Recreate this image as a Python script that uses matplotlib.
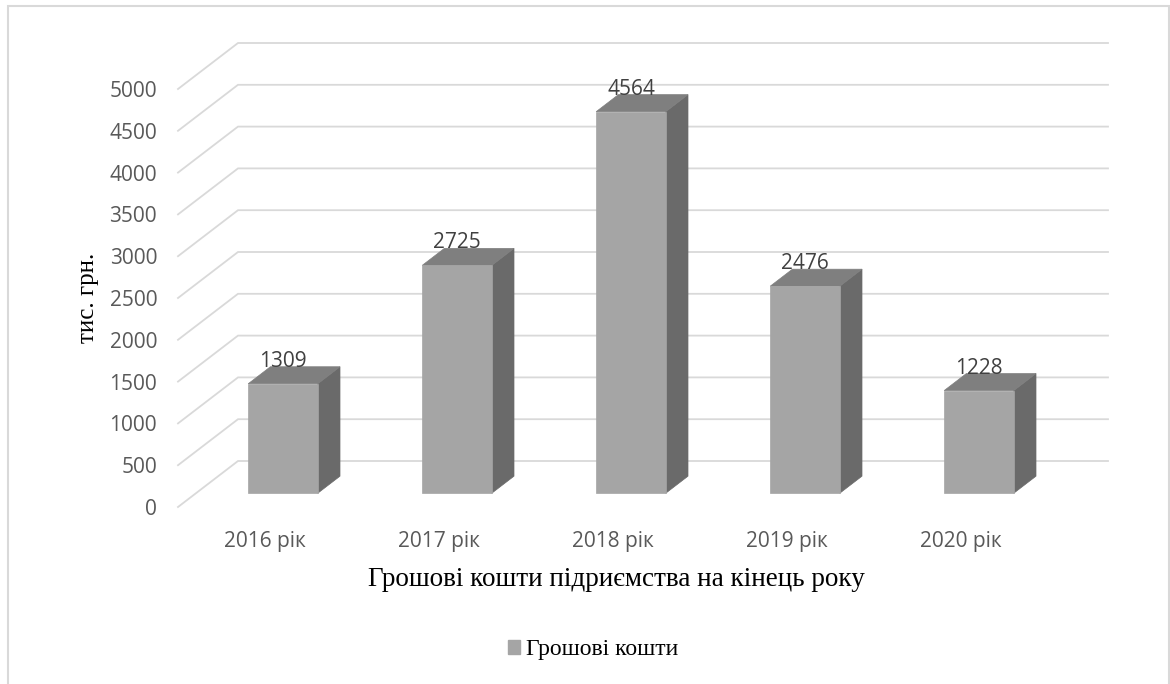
import matplotlib
matplotlib.use("Agg")
import matplotlib.pyplot as plt
from matplotlib.patches import Polygon, Rectangle, Patch
from matplotlib.transforms import IdentityTransform, offset_copy

years = ["2016 рік", "2017 рік", "2018 рік", "2019 рік", "2020 рік"]
cash = [1309, 2725, 4564, 2476, 1228]
y_ticks = [0, 500, 1000, 1500, 2000, 2500, 3000, 3500, 4000, 4500, 5000]

# pseudo-3D geometry: pixel shift of the back wall, bar depth span, bar width
DEPTH = (60, 46)
BAR_FRONT, BAR_BACK = 0.30, 0.67
BAR_WIDTH = 0.40

FRONT = "#A5A5A5"
TOP = "#7F7F7F"
SIDE = "#6A6A6A"
GRID = "#D9D9D9"
TICK = "#595959"
SERIF = ["Liberation Serif", "DejaVu Serif"]

plt.rcParams["font.family"] = ["Open Sans", "DejaVu Sans"]

W, H = 1170, 684
fig = plt.figure(figsize=(W / 100, H / 100), dpi=100)
ax = fig.add_axes([178 / W, 177 / H, 870 / W, 418 / H])
ax.set_xlim(0, len(years))
ax.set_ylim(0, 5000)
ax.set_autoscale_on(False)
ax.patch.set_visible(False)
for s in ax.spines.values():
    s.set_visible(False)

px = IdentityTransform()


def to_px(x, v, d):
    """Display position of (category x, value v) pushed back by depth d."""
    X, Y = ax.transData.transform((x, v))
    return (X + DEPTH[0] * d, Y + DEPTH[1] * d)


# floor-to-wall gridlines
for v in y_ticks:
    pts = [to_px(0, v, 0), to_px(0, v, 1), to_px(len(years), v, 1)]
    ax.plot([p[0] for p in pts], [p[1] for p in pts], color=GRID, lw=1.3,
            transform=px, clip_on=False, zorder=1, solid_joinstyle="miter")

# bars as three faces each
for i, v in enumerate(cash):
    x0 = i + 0.5 - BAR_WIDTH / 2
    x1 = i + 0.5 + BAR_WIDTH / 2
    f, b = BAR_FRONT, BAR_BACK
    faces = [
        ([to_px(x1, 0, f), to_px(x1, 0, b), to_px(x1, v, b), to_px(x1, v, f)], SIDE),
        ([to_px(x0, v, f), to_px(x1, v, f), to_px(x1, v, b), to_px(x0, v, b)], TOP),
        ([to_px(x0, 0, f), to_px(x1, 0, f), to_px(x1, v, f), to_px(x0, v, f)], FRONT),
    ]
    for poly, col in faces:
        ax.add_patch(Polygon(poly, closed=True, facecolor=col, edgecolor=col,
                             lw=0.5, transform=px, clip_on=False, zorder=3))
    lab_tr = offset_copy(ax.transData, fig=fig, x=DEPTH[0] * f, y=DEPTH[1] * b,
                         units="dots")
    ax.text(i + 0.5, v, str(v), transform=lab_tr, ha="center", va="baseline",
            fontsize=15, color="#404040", zorder=4)

ax.set_yticks(y_ticks)
ax.set_xticks([i + 0.5 for i in range(len(years))])
ax.set_xticklabels(years)
ax.tick_params(axis="both", length=0, labelsize=15, labelcolor=TICK)
ax.tick_params(axis="y", pad=15)
ax.tick_params(axis="x", pad=17)

fig.text(88 / W, 1 - 298 / H, "тис. грн.", rotation=90, ha="center",
         va="center", family=SERIF, fontsize=18, color="black")
fig.text(616 / W, 1 - 580 / H, "Грошові кошти підриємства на кінець року",
         ha="center", va="center", family=SERIF, fontsize=19.5, color="black")

fig.legend(handles=[Patch(facecolor=FRONT, edgecolor=FRONT)],
           labels=["Грошові кошти"], loc="center",
           bbox_to_anchor=(593 / W, 1 - 650 / H), frameon=False,
           prop={"family": SERIF, "size": 17}, handlelength=0.5,
           handleheight=0.5, handletextpad=0.25)

# chart frame, open at the bottom edge
fig.add_artist(Rectangle((8 / W, -0.05), (1169 - 8) / W, 1.05 - 6 / H,
                         transform=fig.transFigure, fill=False,
                         edgecolor=GRID, lw=1.5))

fig.savefig("out.png", dpi=100)
